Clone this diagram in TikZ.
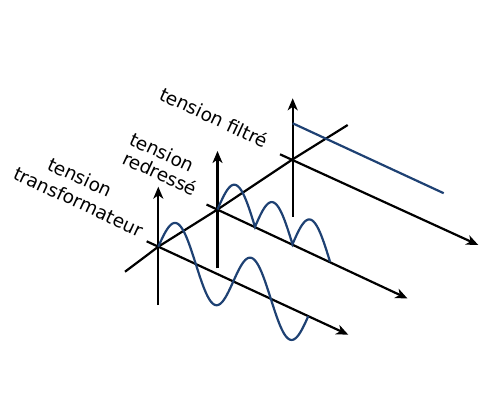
\documentclass[tikz,border=0pt]{standalone}
\usepackage{fontspec}
\setmainfont{DejaVu Sans}
\usetikzlibrary{arrows.meta}

\definecolor{courbe}{RGB}{30,65,115}

\tikzset{
  axe/.style={line width=2.2pt, -{Stealth[length=12pt, width=10pt, inset=3.5pt]}},
  signal/.style={line width=2.2pt, courbe},
  etiquette/.style={rotate=-25, anchor=base west, inner sep=0pt,
    font=\fontsize{18.5}{22}\selectfont},
}

\begin{document}
\begin{tikzpicture}[x=1pt, y=-1pt]
  \useasboundingbox (0,0) rectangle (480,400);

  % === Axe commun (profondeur) ===
  \coordinate (p0) at (125,271.7);
  \coordinate (o1) at (158.3,246.7);
  \coordinate (o2) at (217.5,209.5);
  \coordinate (o3) at (292.7,159.3);
  \coordinate (p1) at (347.7,125);
  \draw[line width=2.2pt] (p0) -- (o1) -- (o2) -- (o3) -- (p1);

  % === Tension transformateur ===
  \begin{scope}[shift={(o1)}]
    \coordinate (t1a) at (-11.6,-5.4);
    \coordinate (t1b) at (190,88);
    \coordinate (v1a) at (0,58.3);
    \coordinate (v1b) at (0,-60);
    \draw[axe] (t1a) -- (t1b);
    \draw[axe] (v1a) -- (v1b);
    % sinus, deux periodes
    \draw[signal] plot[domain=0:150, samples=120, smooth] (\x, {0.463*\x - 32*sin(4.8*\x)});
  \end{scope}

  % === Tension redressee ===
  \begin{scope}[shift={(o2)}]
    \coordinate (t2a) at (-11,-5);
    \coordinate (t2b) at (190,89);
    \coordinate (v2a) at (0,58.8);
    \coordinate (v2b) at (0,-58.5);
    \draw[axe] (t2a) -- (t2b);
    \draw[axe] (v2a) -- (v2b);
    % trois alternances
    \draw[signal] plot[domain=0:112.5, samples=181] (\x, {0.463*\x - 33*abs(sin(4.8*\x))});
  \end{scope}

  % === Tension filtree ===
  \begin{scope}[shift={(o3)}]
    \coordinate (t3a) at (-12.7,-5);
    \coordinate (t3b) at (185.6,85.7);
    \coordinate (v3a) at (0,57.4);
    \coordinate (v3b) at (0,-61);
    \coordinate (f3a) at (0,-36);
    \coordinate (f3b) at (151,33.9);
    \draw[axe] (t3a) -- (t3b);
    \draw[axe] (v3a) -- (v3b);
    \draw[signal] (f3a) -- (f3b);
  \end{scope}

  % === Etiquettes ===
  \node[etiquette] (lblfiltre) at (158,99) {tension filtré};
  \node[etiquette] (lblredr1) at (128,144) {tension};
  \node[etiquette] (lblredr2) at (121,163) {redressé};
  \node[etiquette] (lbltransf1) at (46,169) {tension};
  \node[etiquette] (lbltransf2) at (12,178) {transformateur};
\end{tikzpicture}
\end{document}
